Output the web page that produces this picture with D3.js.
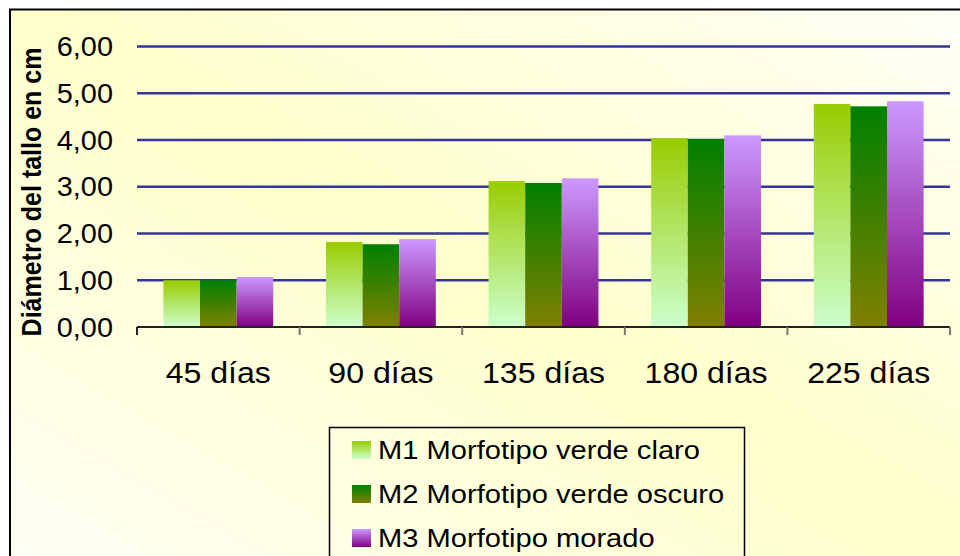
<!DOCTYPE html>
<html>
<head>
<meta charset="utf-8">
<script src="https://cdn.jsdelivr.net/npm/d3@7"></script>
<style>
  body { margin: 0; background: #fff; }
  text { font-family: "Liberation Sans", Arial, sans-serif; fill: #000; }
</style>
</head>
<body>
<div id="chart"></div>
<script>
// data
const categories = ['45 días', '90 días', '135 días', '180 días', '225 días'];
const seriesNames = ['M1 Morfotipo verde claro', 'M2 Morfotipo verde oscuro', 'M3 Morfotipo morado'];
const m1 = [1.00, 1.82, 3.12, 4.04, 4.77];
const m2 = [1.00, 1.77, 3.08, 4.02, 4.72];
const m3 = [1.07, 1.88, 3.18, 4.10, 4.83];
const yTicks = [0, 1, 2, 3, 4, 5, 6];

const colors = [
  { top: '#99cc00', bottom: '#ccffcc' },
  { top: '#008000', bottom: '#808000' },
  { top: '#cc99ff', bottom: '#800080' }
];

let width = 960, height = 556;
const sx = 1.07; // text looks a bit wider than plain Arial

const svg = d3.select('#chart').append('svg')
  .attr('width', width).attr('height', height);

const defs = svg.append('defs');

// background frame gradient: yellow along the main diagonal, paler at the other corners
const bg = defs.append('linearGradient').attr('id', 'bg')
  .attr('gradientUnits', 'userSpaceOnUse')
  .attr('x1', 744).attr('y1', -168).attr('x2', 226).attr('y2', 734);
bg.append('stop').attr('offset', 0).attr('stop-color', '#fffffa');
bg.append('stop').attr('offset', 0.5).attr('stop-color', '#ffffcc');
bg.append('stop').attr('offset', 1).attr('stop-color', '#fffff8');

colors.forEach((c, i) => {
  const g = defs.append('linearGradient').attr('id', 'grad' + i)
    .attr('x1', 0).attr('y1', 0).attr('x2', 0).attr('y2', 1);
  g.append('stop').attr('offset', 0).attr('stop-color', c.top);
  g.append('stop').attr('offset', 1).attr('stop-color', c.bottom);
});

svg.append('rect')
  .attr('x', 10).attr('y', 9.5).attr('width', 1000).attr('height', 600)
  .attr('fill', 'url(#bg)').attr('stroke', '#000').attr('stroke-width', 2);

const pLeft = 137, pRight = 950, pTop = 46.5, pBottom = 327;

const x = d3.scaleBand().domain(categories).range([pLeft, pRight]);
const xs = d3.scaleBand().domain([0, 1, 2]).range([0, x.bandwidth()])
  .paddingInner(0).paddingOuter(0.72);
const y = d3.scaleLinear().domain([0, 6]).range([pBottom, pTop]);

// gridlines
svg.append('g').selectAll('line')
  .data(yTicks.filter(d => d > 0)).enter().append('line')
  .attr('x1', pLeft).attr('x2', pRight)
  .attr('y1', d => y(d)).attr('y2', d => y(d))
  .attr('stroke', '#333399').attr('stroke-width', 2.6);

// y tick labels
svg.append('g').selectAll('g')
  .data(yTicks).enter().append('g')
  .attr('transform', d => `translate(113,${y(d)}) scale(${sx},1)`)
  .append('text')
  .attr('text-anchor', 'end').attr('dy', '0.36em')
  .style('font-size', '27px')
  .text(d => d3.format('.2f')(d).replace('.', ','));

// bars
const data = [m1, m2, m3];
const groups = svg.append('g').selectAll('g')
  .data(categories).enter().append('g')
  .attr('transform', d => `translate(${x(d)},0)`);

groups.selectAll('rect')
  .data((c, ci) => data.map((s, si) => ({ s: si, v: s[ci] })))
  .enter().append('rect')
  .attr('x', d => xs(d.s))
  .attr('width', xs.bandwidth())
  .attr('y', d => y(d.v))
  .attr('height', d => y(0) - y(d.v))
  .attr('fill', d => `url(#grad${d.s})`);

// x axis
const xAxis = svg.append('g').attr('transform', `translate(0,${pBottom})`);
xAxis.append('line').attr('x1', pLeft).attr('x2', pRight)
  .attr('stroke', '#222').attr('stroke-width', 2);
xAxis.selectAll('line.tick')
  .data(d3.range(categories.length + 1)).enter().append('line')
  .attr('class', 'tick')
  .attr('x1', i => pLeft + i * x.step()).attr('x2', i => pLeft + i * x.step())
  .attr('y1', 0).attr('y2', 8)
  .attr('stroke', (d, i) => i === 0 ? '#222' : '#777').attr('stroke-width', 2);

svg.append('g').selectAll('g')
  .data(categories).enter().append('g')
  .attr('transform', d => `translate(${x(d) + x.bandwidth() / 2},383) scale(${sx},1)`)
  .append('text')
  .attr('text-anchor', 'middle')
  .style('font-size', '30px')
  .text(d => d);

// y title
svg.append('g')
  .attr('transform', `translate(41,192) scale(${sx},1) rotate(-90)`)
  .append('text')
  .attr('text-anchor', 'middle')
  .style('font-size', '25px').style('font-weight', 'bold')
  .text('Diámetro del tallo en cm');

// legend
const legend = svg.append('g');
legend.append('rect')
  .attr('x', 329.5).attr('y', 427.5).attr('width', 415).attr('height', 200)
  .attr('fill', 'none').attr('stroke', '#000').attr('stroke-width', 1.5);

const rows = legend.selectAll('g.row')
  .data(seriesNames).enter().append('g').attr('class', 'row')
  .attr('transform', (d, i) => `translate(0,${459 + i * 44})`);
rows.append('rect')
  .attr('x', 352).attr('y', -18).attr('width', 19).attr('height', 18)
  .attr('fill', (d, i) => `url(#grad${i})`);
rows.append('g')
  .attr('transform', `translate(378,0) scale(1.12,1)`)
  .append('text')
  .style('font-size', '26px')
  .text(d => d);
</script>
</body>
</html>
